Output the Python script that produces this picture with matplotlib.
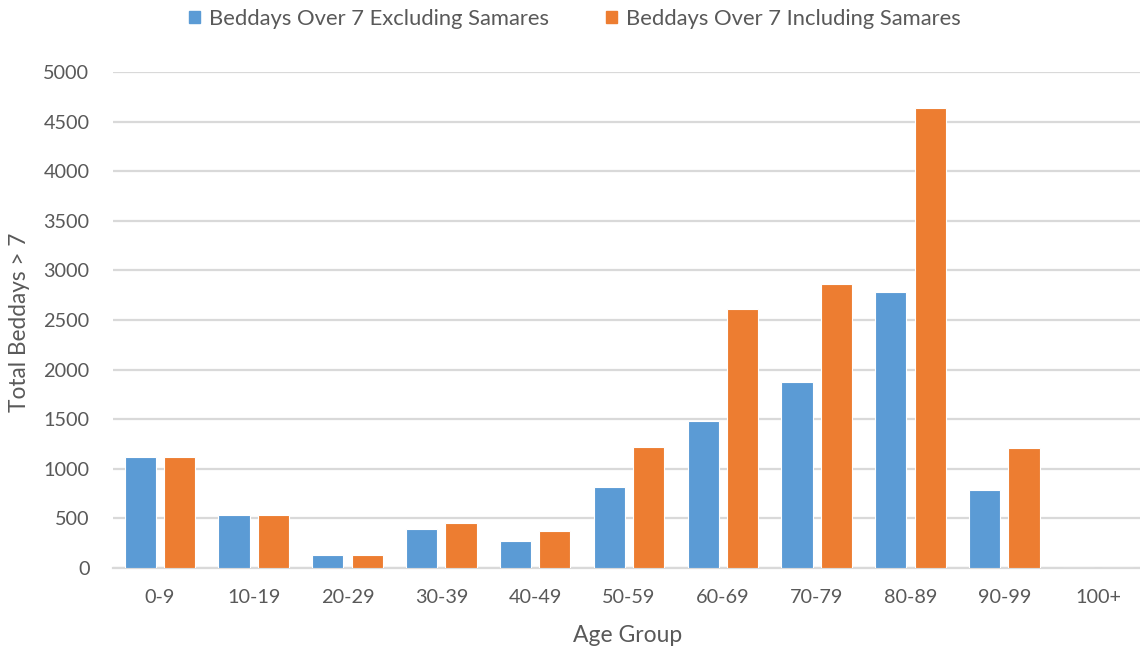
import numpy as np
import matplotlib
matplotlib.use("Agg")
from matplotlib import pyplot as plt
from matplotlib.patches import Patch

# beddays over 7 by age group
age_groups = ['0-9', '10-19', '20-29', '30-39', '40-49', '50-59',
              '60-69', '70-79', '80-89', '90-99', '100+']
excl_samares = [1116, 536, 131, 391, 276, 820, 1478, 1878, 2779, 786, 0]
incl_samares = [1116, 536, 131, 455, 371, 1223, 2611, 2859, 4633, 1210, 0]
y_ticks = [0, 500, 1000, 1500, 2000, 2500, 3000, 3500, 4000, 4500, 5000]

blue = '#5B9BD5'
orange = '#ED7D31'
text_col = '#595959'
grid_col = '#D9D9D9'

plt.rcParams['font.family'] = ['Lato', 'DejaVu Sans']

fig = plt.figure(figsize=(11.4, 6.53), dpi=100)
ax = fig.add_axes([113 / 1140, 1 - 568 / 653, 1032 / 1140, 496 / 653])

x = np.arange(len(age_groups))
w = 0.332
off = 0.21
ax.bar(x - off, excl_samares, w, color=blue, edgecolor='white', linewidth=0.8, zorder=3)
ax.bar(x + off, incl_samares, w, color=orange, edgecolor='white', linewidth=0.8, zorder=3)

ax.set_xlim(-0.5, len(age_groups) - 0.5)
ax.set_ylim(0, 5000)
ax.set_yticks(y_ticks)
ax.set_xticks(x)
ax.set_xticklabels(age_groups)
ax.yaxis.grid(True, color=grid_col, linewidth=1.6, zorder=0)
ax.set_axisbelow(True)
for s in ['top', 'right', 'left']:
    ax.spines[s].set_visible(False)
ax.spines['bottom'].set_color(grid_col)
ax.spines['bottom'].set_linewidth(1.6)
ax.tick_params(axis='y', length=0, pad=17, labelsize=14.3, labelcolor=text_col)
ax.tick_params(axis='x', length=0, pad=15, labelsize=14.3, labelcolor=text_col)

fig.text(20 / 1140, 1 - 322 / 653, 'Total Beddays > 7', rotation=90,
         ha='center', va='center', fontsize=16.3, color=text_col)
fig.text(628 / 1140, 1 - 636 / 653, 'Age Group', ha='center', va='center',
         fontsize=16.5, color=text_col)

handles = [Patch(color=blue, label='Beddays Over 7 Excluding Samares'),
           Patch(color=orange, label='Beddays Over 7 Including Samares')]
fig.legend(handles=handles, loc='center', bbox_to_anchor=(575 / 1140, 1 - 19 / 653),
           ncol=2, frameon=False, fontsize=15.8, labelcolor=text_col,
           handlelength=0.5, handleheight=0.5, handletextpad=0.4, columnspacing=2.6)

fig.savefig('out.png', dpi=100)
